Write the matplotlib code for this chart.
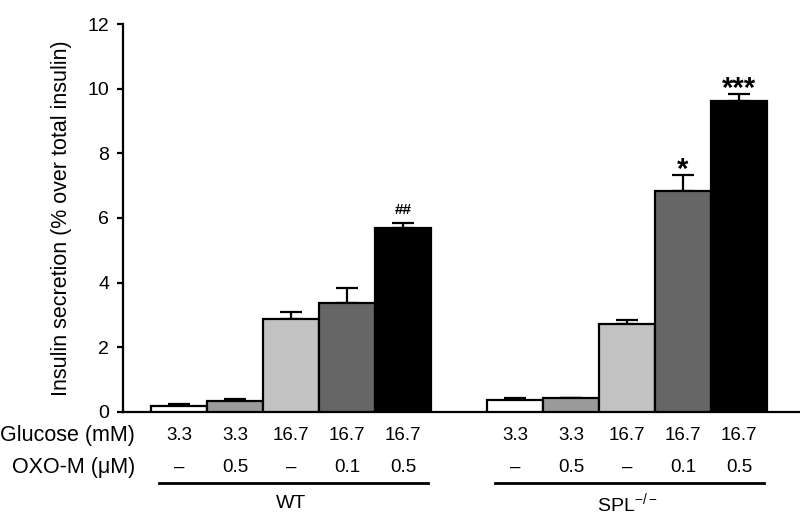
import matplotlib
matplotlib.use("Agg")
import matplotlib.pyplot as plt
import matplotlib.transforms as mtransforms
import numpy as np

plt.rcParams['font.family'] = ['Liberation Sans', 'DejaVu Sans']
plt.rcParams['mathtext.fontset'] = 'custom'
plt.rcParams['mathtext.rm'] = 'Liberation Sans'
plt.rcParams['mathtext.it'] = 'Liberation Sans:italic'

# Data
groups = ["WT", "SPL$^{-/-}$"]
glucose = ["3.3", "3.3", "16.7", "16.7", "16.7"]
oxo = ["\u2013", "0.5", "\u2013", "0.1", "0.5"]
wt_means = [0.20, 0.34, 2.88, 3.37, 5.69]
wt_err = [0.05, 0.06, 0.22, 0.47, 0.16]
spl_means = [0.38, 0.43, 2.72, 6.82, 9.63]
spl_err = [0.04, 0.00, 0.11, 0.51, 0.19]
wt_marks = ["", "", "", "", "##"]
spl_marks = ["", "", "", "*", "***"]
bar_colors = ["#ffffff", "#9a9a9a", "#c2c2c2", "#666666", "#000000"]

fig = plt.figure(figsize=(8, 5.16), dpi=100)
ax = fig.add_axes([123/800, 1-412/516, 1-123/800, (412-24)/516])

n = len(glucose)
x_wt = np.arange(n)
x_spl = np.arange(n) + n + 1
all_x = [x_wt, x_spl]
all_means = [wt_means, spl_means]
all_err = [wt_err, spl_err]
all_marks = [wt_marks, spl_marks]

for xs, ms, es, mk in zip(all_x, all_means, all_err, all_marks):
    ax.bar(xs, ms, width=1.0, color=bar_colors, edgecolor='black', linewidth=1.6, zorder=3)
    ax.errorbar(xs, ms, yerr=[np.zeros(n), es], fmt='none', ecolor='black',
                elinewidth=1.6, capsize=8, capthick=1.6, zorder=2)
    for x, m, e, s in zip(xs, ms, es, mk):
        if s:
            if s.startswith('#'):
                ax.annotate(s, (x, m + e), xytext=(0, 9), textcoords='offset points',
                            ha='center', va='center', fontsize=11, fontweight='bold')
            else:
                ax.annotate(s, (x, m + e), xytext=(0, 4), textcoords='offset points',
                            ha='center', va='center', fontsize=21, fontweight='bold')

ax.set_xlim(-1.0, 11.09)
ax.set_ylim(0, 12)
ax.set_yticks(np.arange(0, 13, 2))
ax.set_xticks([])
ax.spines['top'].set_visible(False)
ax.spines['right'].set_visible(False)
ax.spines['left'].set_linewidth(1.6)
ax.spines['bottom'].set_linewidth(1.6)
ax.tick_params(axis='y', length=4, width=1.6, labelsize=14, pad=6)
ax.set_ylabel("Insulin secretion (% over total insulin)", fontsize=15.5)
ax.yaxis.set_label_coords((72 - 123) / 677, 0.5)

# table below
trans = mtransforms.blended_transform_factory(ax.transData, fig.transFigure)
y_glu = 1 - 436/516
y_oxo = 1 - 467/516
y_line = 1 - 483/516
y_grp = 1 - 503/516
fig.text(135/800, y_glu, "Glucose (mM)", ha='right', va='center', fontsize=15.5)
fig.text(135/800, y_oxo, "OXO-M (\u03bcM)", ha='right', va='center', fontsize=15.5)
for xs, g in zip(all_x, groups):
    for x, gl, ox in zip(xs, glucose, oxo):
        ax.text(x, y_glu, gl, transform=trans, ha='center', va='center', fontsize=13.5)
        ax.text(x, y_oxo, ox, transform=trans, ha='center', va='center', fontsize=13.5)
    ax.plot([xs[0] - 0.36, xs[-1] + 0.45], [y_line, y_line], transform=trans,
            color='black', lw=2, clip_on=False)
    ax.text(xs[n // 2], y_grp, g, transform=trans, ha='center', va='center', fontsize=14)

fig.savefig("out.png", dpi=100)
